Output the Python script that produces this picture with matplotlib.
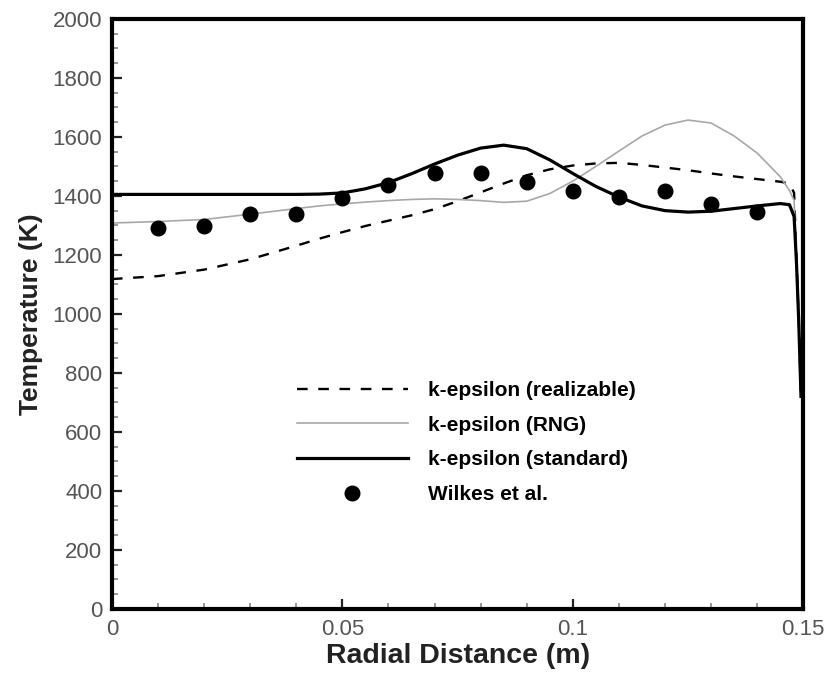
import matplotlib
matplotlib.use("Agg")
import matplotlib.pyplot as plt
from matplotlib.ticker import MultipleLocator

plt.rcParams['font.family'] = ['Liberation Sans', 'DejaVu Sans']

# radial stations of the CFD profiles (m)
x_sim = [0, 0.01, 0.02, 0.03, 0.04,
         0.045, 0.05, 0.055, 0.06, 0.065, 0.07, 0.075, 0.08, 0.085, 0.09,
         0.095, 0.1, 0.105, 0.11, 0.115, 0.12, 0.125, 0.13, 0.135, 0.14, 0.145,
         0.147, 0.148, 0.1485, 0.149, 0.1495]

# temperature (K) for each turbulence model
t_realizable = [1118, 1128, 1150, 1185, 1231,
                1255, 1277, 1298, 1316, 1334, 1355, 1382, 1412, 1442, 1470,
                1490, 1503, 1510, 1512, 1505, 1496, 1487, 1476, 1466, 1457, 1448,
                1442, 1410, 1200, 980, 720]
t_rng = [1308, 1313, 1320, 1338, 1357,
         1366, 1373, 1379, 1384, 1388, 1390, 1388, 1384, 1378, 1382,
         1408, 1450, 1500, 1552, 1603, 1640, 1657, 1647, 1603, 1545, 1465,
         1418, 1385, 1200, 980, 720]
t_standard = [1405, 1405, 1405, 1405, 1405,
              1406, 1410, 1424, 1445, 1475, 1508, 1538, 1562, 1572, 1560,
              1522, 1476, 1432, 1396, 1366, 1350, 1345, 1348, 1357, 1366, 1374,
              1370, 1330, 1180, 980, 720]

# measurements
x_exp = [0.01, 0.02, 0.03, 0.04, 0.05, 0.06, 0.07, 0.08, 0.09, 0.1, 0.11, 0.12, 0.13, 0.14]
t_exp = [1290, 1298, 1337, 1337, 1392, 1436, 1478, 1478, 1447, 1415, 1397, 1415, 1372, 1346]

fig = plt.figure(figsize=(8.29, 6.75), dpi=100)
ax = fig.add_axes([0.135, 0.098, 0.834, 0.874])

ax.plot(x_sim, t_realizable, color='black', lw=1.7, linestyle=(0, (4.5, 4.5)),
        label='k-epsilon (realizable)')
ax.plot(x_sim, t_rng, color='#a8a8a8', lw=1.2, label='k-epsilon (RNG)')
ax.plot(x_sim, t_standard, color='black', lw=2.3, label='k-epsilon (standard)')
ax.plot(x_exp, t_exp, 'o', color='black', ms=10.5, label='Wilkes et al.')

ax.set_xlim(0, 0.15)
ax.set_ylim(0, 2000)
ax.xaxis.set_major_locator(MultipleLocator(0.05))
ax.xaxis.set_minor_locator(MultipleLocator(0.01))
ax.yaxis.set_major_locator(MultipleLocator(200))
ax.yaxis.set_minor_locator(MultipleLocator(50))
ax.xaxis.set_major_formatter(plt.FuncFormatter(lambda v, p: f'{v:g}'))

for s in ax.spines.values():
    s.set_linewidth(3)
ax.tick_params(which='both', direction='in', top=False, right=False,
               labelsize=16, labelcolor='#555555', pad=7)
ax.tick_params(which='major', length=7, width=1.6, color='#222222')
ax.tick_params(which='minor', length=4, width=1.2, color='#888888')

ax.set_xlabel('Radial Distance (m)', fontsize=20.5, fontweight='bold', color='#222222')
ax.set_ylabel('Temperature (K)', fontsize=19, fontweight='bold', color='#222222')
ax.xaxis.set_label_coords(0.5, -0.058)
ax.yaxis.set_label_coords(-0.1, 0.5)

ax.legend(loc='upper left', bbox_to_anchor=(0.268, 0.386), frameon=False,
          borderpad=0, borderaxespad=0, handlelength=5.3, handletextpad=1.0,
          labelspacing=0.75, numpoints=1, prop={'weight': 'bold', 'size': 15})

fig.savefig('out.png', dpi=100)
